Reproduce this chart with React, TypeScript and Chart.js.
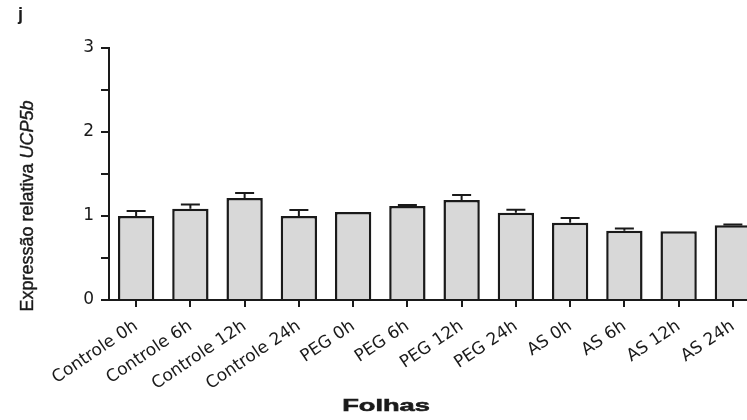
import React, { useEffect, useRef } from "react";
import { Chart, registerables } from "chart.js";

Chart.register(...registerables);

// Relative expression of UCP5b in leaves, by treatment and time point
const categories = [
  "Controle 0h",
  "Controle 6h",
  "Controle 12h",
  "Controle 24h",
  "PEG 0h",
  "PEG 6h",
  "PEG 12h",
  "PEG 24h",
  "AS 0h",
  "AS 6h",
  "AS 12h",
  "AS 24h",
];
const expression = [1.0, 1.087, 1.214, 1.0, 1.048, 1.119, 1.19, 1.04, 0.92, 0.825, 0.818, 0.889];
const errorUp = [0.06, 0.05, 0.06, 0.07, 0, 0.012, 0.06, 0.035, 0.055, 0.025, 0, 0.01];
const yLabeledTicks = [0, 1, 2, 3];

const panelLetter = "j";
const yTitleMain = "Expressão relativa ";
const yTitleGene = "UCP5b";
const xTitle = "Folhas";

const INK = "#1a1a1a";
const BAR_FILL = "#d8d8d8";

const errorBars = {
  id: "errorBars",
  afterDatasetsDraw(chart: any) {
    const { ctx } = chart;
    const y = chart.scales.y;
    const meta = chart.getDatasetMeta(0);
    ctx.save();
    ctx.strokeStyle = INK;
    ctx.lineWidth = 2;
    meta.data.forEach((bar: any, i: number) => {
      const e = errorUp[i];
      if (!e) return;
      const v = expression[i];
      const yBase = y.getPixelForValue(v);
      const yTop = y.getPixelForValue(v + e);
      ctx.beginPath();
      ctx.moveTo(bar.x, yBase);
      ctx.lineTo(bar.x, yTop);
      ctx.moveTo(bar.x - 9.5, yTop);
      ctx.lineTo(bar.x + 9.5, yTop);
      ctx.stroke();
    });
    ctx.restore();
  },
};

const titles = {
  id: "titles",
  afterDraw(chart: any) {
    const { ctx } = chart;
    ctx.save();
    ctx.fillStyle = INK;
    ctx.strokeStyle = INK;

    // panel letter
    ctx.font = "bold 18px 'Liberation Sans', Arial, sans-serif";
    ctx.textAlign = "left";
    ctx.textBaseline = "alphabetic";
    ctx.fillText(panelLetter, 18, 20);

    // y-axis title, rotated, gene name in italics
    ctx.save();
    ctx.translate(28, 206);
    ctx.rotate(-Math.PI / 2);
    ctx.textBaseline = "middle";
    ctx.lineWidth = 0.4;
    const fMain = "18px 'Liberation Sans', Arial, sans-serif";
    const fGene = "italic 18px 'Liberation Sans', Arial, sans-serif";
    ctx.font = fMain;
    const wMain = ctx.measureText(yTitleMain).width;
    ctx.font = fGene;
    const wGene = ctx.measureText(yTitleGene).width;
    const start = -(wMain + wGene) / 2;
    ctx.textAlign = "left";
    ctx.font = fMain;
    ctx.fillText(yTitleMain, start, 0);
    ctx.strokeText(yTitleMain, start, 0);
    ctx.font = fGene;
    ctx.fillText(yTitleGene, start + wMain, 0);
    ctx.strokeText(yTitleGene, start + wMain, 0);
    ctx.restore();

    // x-axis title, wide bold lettering
    ctx.save();
    ctx.translate(386, 411);
    ctx.scale(1.6, 1);
    ctx.font = "bold 17px 'Liberation Sans', Arial, sans-serif";
    ctx.textAlign = "center";
    ctx.textBaseline = "alphabetic";
    ctx.lineWidth = 0.6;
    ctx.fillText(xTitle, 0, 0);
    ctx.strokeText(xTitle, 0, 0);
    ctx.restore();

    ctx.restore();
  },
};

export default function App() {
  const canvasRef = useRef<HTMLCanvasElement | null>(null);

  useEffect(() => {
    const canvas = canvasRef.current;
    if (!canvas) return;
    const chart = new Chart(canvas, {
      type: "bar",
      data: {
        labels: categories,
        datasets: [
          {
            data: expression,
            backgroundColor: BAR_FILL,
            borderColor: INK,
            borderWidth: 2.5,
            barPercentage: 0.67,
            categoryPercentage: 1,
          },
        ],
      },
      options: {
        animation: false,
        responsive: false,
        maintainAspectRatio: false,
        devicePixelRatio: 1,
        layout: { padding: { top: 48, right: 0, bottom: 0, left: 0 } },
        plugins: {
          legend: { display: false },
          tooltip: { enabled: false },
        },
        scales: {
          x: {
            offset: true,
            grid: {
              offset: false,
              drawOnChartArea: false,
              drawTicks: true,
              tickLength: 7,
              color: INK,
              lineWidth: 2,
            },
            border: { display: true, color: INK, width: 2 },
            ticks: {
              color: INK,
              font: { family: "'DejaVu Sans', sans-serif", size: 17 },
              minRotation: 34,
              maxRotation: 34,
              autoSkip: false,
              padding: 9,
            },
            afterFit: (s: any) => {
              s.height = 120;
            },
          },
          y: {
            min: 0,
            max: 3,
            grid: {
              drawOnChartArea: false,
              drawTicks: true,
              tickLength: 8,
              color: INK,
              lineWidth: 2,
            },
            border: { display: true, color: INK, width: 2 },
            ticks: {
              stepSize: 0.5,
              color: INK,
              padding: 7,
              font: { family: "'DejaVu Sans', sans-serif", size: 17 },
              callback: (v: any) => (yLabeledTicks.includes(Number(v)) ? String(v) : ""),
            },
            afterFit: (s: any) => {
              s.width = 109;
            },
          },
        },
      },
      plugins: [errorBars, titles],
    });
    return () => chart.destroy();
  }, []);

  return (
    <div
      style={{
        position: "fixed",
        left: 0,
        top: 0,
        width: 747,
        height: 420,
        overflow: "hidden",
        background: "#ffffff",
      }}
    >
      <canvas ref={canvasRef} width={760} height={420} style={{ display: "block" }} />
    </div>
  );
}
